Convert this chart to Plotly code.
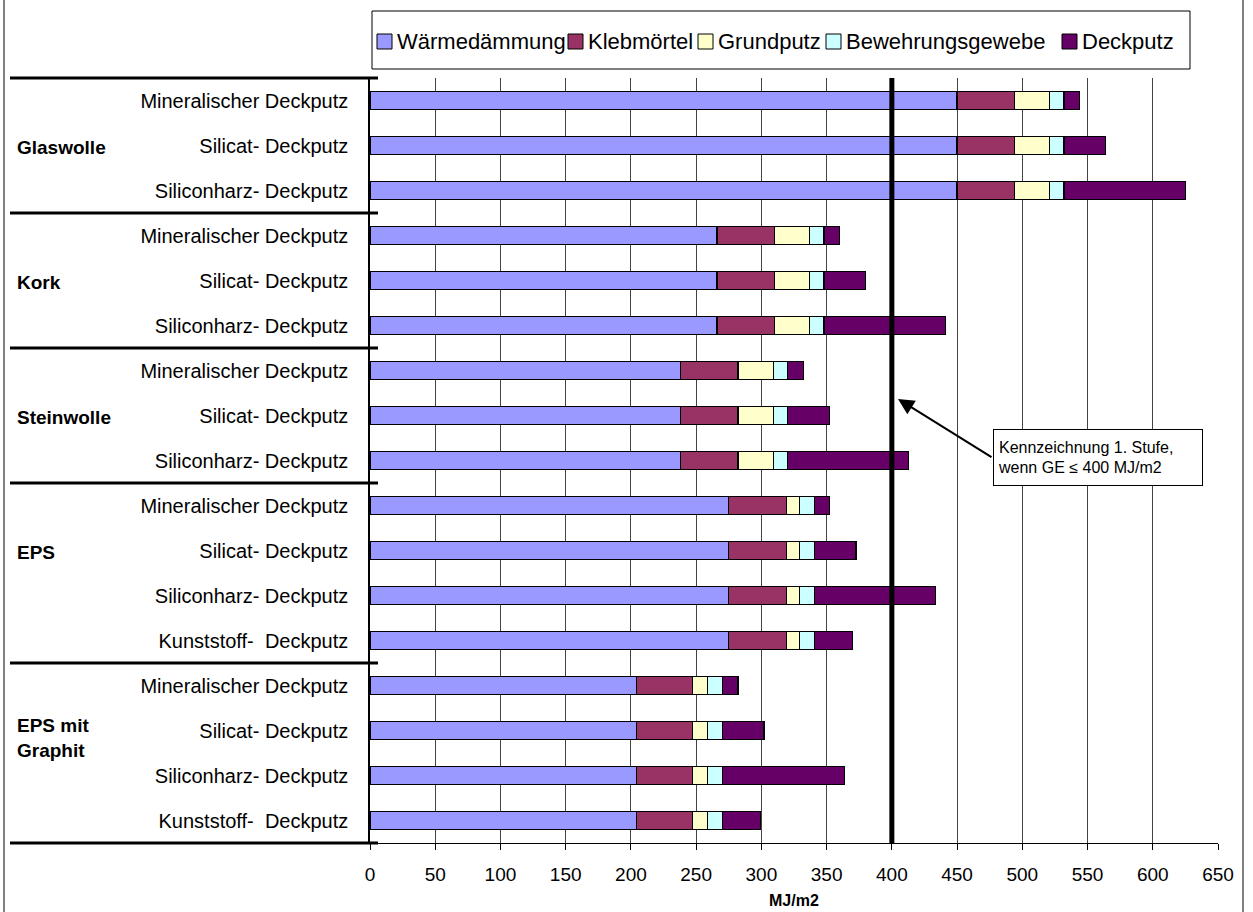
import plotly.graph_objects as go

# ---------------- data ----------------
groups = ["Glaswolle", "Kork", "Steinwolle", "EPS", "EPS mit<br>Graphit"]
group_items = [
    ["Mineralischer Deckputz", "Silicat- Deckputz", "Siliconharz- Deckputz"],
    ["Mineralischer Deckputz", "Silicat- Deckputz", "Siliconharz- Deckputz"],
    ["Mineralischer Deckputz", "Silicat- Deckputz", "Siliconharz- Deckputz"],
    ["Mineralischer Deckputz", "Silicat- Deckputz", "Siliconharz- Deckputz", "Kunststoff-\u00a0 Deckputz"],
    ["Mineralischer Deckputz", "Silicat- Deckputz", "Siliconharz- Deckputz", "Kunststoff-\u00a0 Deckputz"],
]
series_names = ["Wärmedämmung", "Klebmörtel", "Grundputz", "Bewehrungsgewebe", "Deckputz"]
waermedaemmung = [450, 450, 450, 266, 266, 266, 238, 238, 238, 275, 275, 275, 275, 204, 204, 204, 204]
klebmoertel = [44, 44, 44, 44, 44, 44, 44, 44, 44, 44, 44, 44, 44, 43.5, 43.5, 43.5, 43.5]
grundputz = [27, 27, 27, 27, 27, 27, 27, 27, 27, 10.5, 10.5, 10.5, 10.5, 11, 11, 11, 11]
bewehrungsgewebe = [11, 11, 11, 11, 11, 11, 11, 11, 11, 11, 11, 11, 11, 11.5, 11.5, 11.5, 11.5]
deckputz = [12, 32, 93, 12, 32, 93, 12, 32, 93, 12, 32, 93, 29.5, 12, 32, 93.5, 29.5]
x_ticks = [0, 50, 100, 150, 200, 250, 300, 350, 400, 450, 500, 550, 600, 650]
threshold = 400
x_title = "MJ/m2"
note_text = "Kennzeichnung 1. Stufe,<br>wenn GE \u2264 400 MJ/m2"

colors = ["#9999FF", "#993366", "#FFFFCC", "#CCFFFF", "#660066"]
series_values = [waermedaemmung, klebmoertel, grundputz, bewehrungsgewebe, deckputz]

# ---------------- layout geometry ----------------
W, H = 1253, 912
L, R, T, B = 370, 1218, 78, 843
PW, PH = R - L, B - T
FONT = "Arial, Liberation Sans, sans-serif"


def px(xp):
    return (xp - L) / PW


def py(yp):
    return (B - yp) / PH


labels = [s for items in group_items for s in items]
n = len(labels)
ypos = list(range(n))

fig = go.Figure()
for name, vals, col in zip(series_names, series_values, colors):
    fig.add_trace(go.Bar(
        y=ypos, x=vals, name=name, orientation="h",
        marker=dict(color=col, line=dict(color="black", width=1.2)),
        width=0.4, showlegend=False,
    ))

shapes = []
annotations = []

# threshold line
shapes.append(dict(type="line", xref="x", yref="paper", x0=threshold, x1=threshold,
                   y0=0, y1=1, line=dict(color="black", width=5), layer="above"))

# group separators and group labels
start = 0
bounds = [0]
for items in group_items:
    start += len(items)
    bounds.append(start)
for b in bounds:
    yp = 1 - b / n
    shapes.append(dict(type="line", xref="paper", yref="paper", x0=px(10), x1=px(378),
                       y0=yp, y1=yp, line=dict(color="black", width=3)))
for gi, g in enumerate(groups):
    two_line = "<br>" in g
    annotations.append(dict(text="<b>%s</b>" % g, xref="paper", yref="y", x=px(15), y=bounds[gi] + 1,
                            xanchor="left", yanchor="middle", showarrow=False, align="left",
                            yshift=-7 if two_line else -2,
                            font=dict(family=FONT, size=19, color="black")))

# outer frame
shapes.append(dict(type="rect", xref="paper", yref="paper", x0=px(4), x1=px(1243),
                   y0=py(940), y1=py(-10), line=dict(color="#808080", width=2),
                   fillcolor="rgba(0,0,0,0)", layer="below"))

# legend (manual)
shapes.append(dict(type="rect", xref="paper", yref="paper", x0=px(372), x1=px(1190),
                   y0=py(69), y1=py(11), line=dict(color="black", width=1),
                   fillcolor="white"))
leg_x = [377, 568, 698, 826, 1062]
for xs, name, col in zip(leg_x, series_names, colors):
    shapes.append(dict(type="rect", xref="paper", yref="paper", x0=px(xs), x1=px(xs + 15),
                       y0=py(49), y1=py(34), line=dict(color="black", width=1), fillcolor=col))
    annotations.append(dict(text=name, xref="paper", yref="paper", x=px(xs + 18), y=py(41.5),
                            xanchor="left", yanchor="middle", showarrow=False,
                            font=dict(family=FONT, size=22, color="black")))

# note box with arrow
annotations.append(dict(text=note_text, xref="paper", yref="paper", x=px(1098), y=py(457.5),
                        xanchor="center", yanchor="middle", showarrow=False, align="left",
                        width=200, height=47, borderpad=4, bordercolor="black", borderwidth=1,
                        bgcolor="white", font=dict(family=FONT, size=16, color="black")))
annotations.append(dict(text="", xref="x", yref="paper", x=(898 - L) / PW * 650, y=py(399),
                        axref="pixel", ayref="pixel", ax=95, ay=59, showarrow=True,
                        arrowhead=2, arrowsize=1.6, arrowwidth=2, arrowcolor="black"))

# x axis title
annotations.append(dict(text="<b>%s</b>" % x_title, xref="paper", yref="paper", x=0.5, y=py(900),
                        xanchor="center", yanchor="middle", showarrow=False,
                        font=dict(family=FONT, size=16, color="black")))

fig.update_layout(
    width=W, height=H,
    margin=dict(l=L, r=W - R, t=T, b=H - B, pad=0, autoexpand=False),
    paper_bgcolor="white", plot_bgcolor="white",
    barmode="stack", bargap=0.6,
    showlegend=False,
    shapes=shapes, annotations=annotations,
    font=dict(family=FONT, color="black"),
)
fig.update_xaxes(
    range=[0, 650], tickvals=x_ticks, ticktext=[str(v) for v in x_ticks],
    showgrid=True, gridcolor="#444444", gridwidth=1,
    showline=True, linecolor="black", linewidth=1,
    ticks="outside", ticklen=6, tickcolor="black", ticklabelstandoff=8,
    tickfont=dict(family=FONT, size=19, color="black"),
    zeroline=False, automargin=False,
)
fig.update_yaxes(
    range=[n - 0.5, -0.5], tickvals=ypos, ticktext=labels,
    showgrid=False, zeroline=False,
    showline=True, linecolor="black", linewidth=1.5,
    ticks="", ticklabelstandoff=16, automargin=False,
    tickfont=dict(family=FONT, size=20, color="black"),
)

fig.write_html("out.html")
